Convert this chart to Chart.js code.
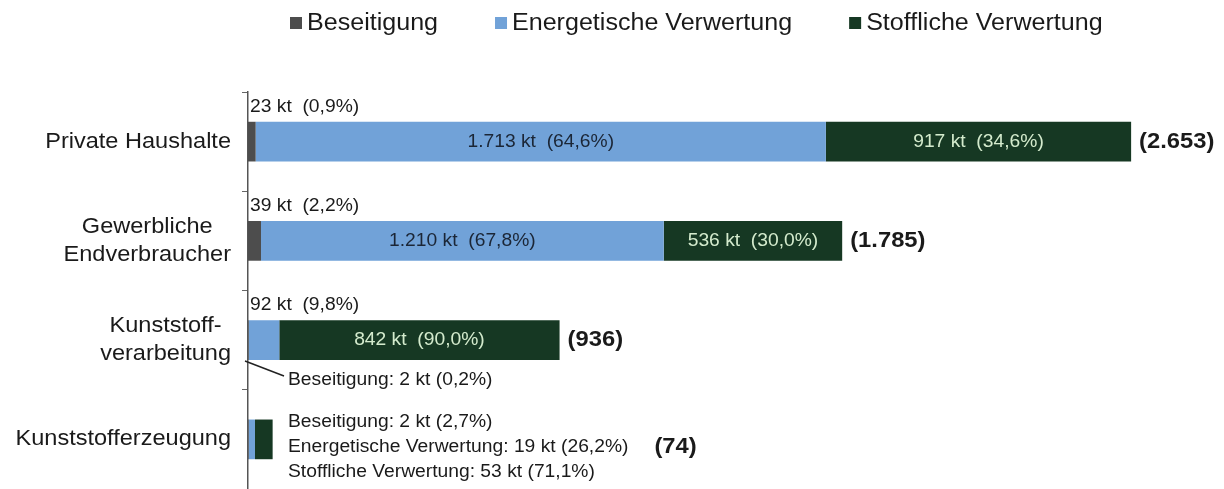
<!DOCTYPE html>
<html><head><meta charset="utf-8">
<script src="https://cdn.jsdelivr.net/npm/chart.js@4.4.1/dist/chart.umd.min.js"></script>
<style>html,body{margin:0;padding:0;background:#fff;} #wrap{width:1224px;height:489px;}</style>
</head><body><div id="wrap"><canvas id="c" width="1224" height="489"></canvas></div>
<script>
const categories = [["Private Haushalte"], ["Gewerbliche", "Endverbraucher"], ["Kunststoff-", "verarbeitung"], ["Kunststofferzeugung"]];
const seriesNames = ["Beseitigung", "Energetische Verwertung", "Stoffliche Verwertung"];
const beseitigung = [23, 39, 2, 2];
const energetisch = [1713, 1210, 92, 19];
const stofflich = [917, 536, 842, 53];
const pctBeseitigung = ["0,9", "2,2", "0,2", "2,7"];
const pctEnergetisch = ["64,6", "67,8", "9,8", "26,2"];
const pctStofflich = ["34,6", "30,0", "90,0", "71,1"];
const xMax = 2920;

const colors = ["#4d4d4d", "#71a2d8", "#163823"];
const innerText = ["#1a1a1a", "#1b2636", "#d4ebcd"];
const FONT = '"Liberation Sans", Arial, sans-serif';
const SX = 1.07;

function fmt(n) { return String(n).replace(/\B(?=(\d{3})+(?!\d))/g, "."); }

function txt(ctx, s, x, y, o) {
  o = o || {};
  const size = o.size || 18, weight = o.weight || "normal", sx = o.sx || SX;
  ctx.save();
  ctx.font = weight + " " + size + "px " + FONT;
  ctx.fillStyle = o.color || "#1a1a1a";
  ctx.textBaseline = "middle";
  ctx.textAlign = o.align || "left";
  ctx.translate(x, y);
  ctx.scale(sx, 1);
  ctx.fillText(s, 0, 0);
  const w = ctx.measureText(s).width * sx;
  ctx.restore();
  return w;
}
function tw(ctx, s, o) {
  o = o || {};
  ctx.save();
  ctx.font = (o.weight || "normal") + " " + (o.size || 18) + "px " + FONT;
  const w = ctx.measureText(s).width * (o.sx || SX);
  ctx.restore();
  return w;
}

const pcts = [pctBeseitigung, pctEnergetisch, pctStofflich];

const labelPlugin = {
  id: "labels",
  afterDraw(chart) {
    const ctx = chart.ctx;
    const area = chart.chartArea;
    const yScale = chart.scales.y;
    // legend
    let lx = 290;
    chart.data.datasets.forEach((ds, i) => {
      ctx.fillStyle = ds.backgroundColor;
      ctx.fillRect(lx, 17, 12, 12);
      const w = txt(ctx, ds.label, lx + 17, 24, { size: 23, sx: 1.09, color: "#1a1a1a" });
      lx += 17 + w + 57;
    });
    // category labels
    chart.data.labels.forEach((lab, j) => {
      const lines = Array.isArray(lab) ? lab : [lab];
      const cy = yScale.getPixelForTick(j);
      const widths = lines.map(l => tw(ctx, l, { size: 22 }));
      const bw = Math.max(...widths);
      const cx = 231 - bw / 2;
      lines.forEach((l, k) => {
        const yy = cy + (k - (lines.length - 1) / 2) * 28;
        txt(ctx, l, cx, yy, { size: 22, align: "center" });
      });
    });
    // data labels
    const metas = chart.data.datasets.map((d, i) => chart.getDatasetMeta(i));
    const n = chart.data.labels.length;
    for (let j = 0; j < n; j++) {
      const vals = chart.data.datasets.map(d => d.data[j]);
      const total = vals.reduce((a, b) => a + b, 0);
      const els = metas.map(m => m.data[j]);
      const top = els[0].y - els[0].height / 2;
      const bottom = els[0].y + els[0].height / 2;
      const cy = els[0].y;
      const barEnd = els[els.length - 1].x;
      const texts = vals.map((v, i) => fmt(v) + " kt  (" + pcts[i][j] + "%)");
      const fits = els.map((e, i) => Math.abs(e.x - e.base) > tw(ctx, texts[i]) + 14);
      if (!fits.some(f => f)) {
        const bx = area.left + 40;
        let maxW = 0;
        vals.forEach((v, i) => {
          const s = chart.data.datasets[i].label + ": " + fmt(v) + " kt (" + pcts[i][j] + "%)";
          const w = txt(ctx, s, bx, cy + (i - 1) * 25 + 8);
          maxW = Math.max(maxW, w);
        });
        txt(ctx, "(" + fmt(total) + ")", bx + maxW + 26, cy + 8, { size: 22, weight: "bold", sx: 1.08 });
        continue;
      }
      const nonFit = vals.map((v, i) => i).filter(i => !fits[i]);
      nonFit.sort((a, b) => vals[b] - vals[a]);
      nonFit.forEach((i, k) => {
        if (k === 0) {
          txt(ctx, texts[i], area.left + 2, top - 15);
        } else {
          const s = chart.data.datasets[i].label + ": " + fmt(vals[i]) + " kt (" + pcts[i][j] + "%)";
          const lx0 = area.left + 40, ly = bottom + 20;
          ctx.save();
          ctx.strokeStyle = "#222";
          ctx.lineWidth = 1.5;
          ctx.beginPath();
          ctx.moveTo(els[i].base - 3, bottom + 1);
          ctx.lineTo(lx0 - 4, ly - 4);
          ctx.stroke();
          ctx.restore();
          txt(ctx, s, lx0, ly);
        }
      });
      els.forEach((e, i) => {
        if (fits[i]) {
          txt(ctx, texts[i], (e.x + e.base) / 2, cy, { align: "center", color: innerText[i] });
        }
      });
      txt(ctx, "(" + fmt(total) + ")", barEnd + 8, cy, { size: 22, weight: "bold", sx: 1.08 });
    }
  }
};

new Chart(document.getElementById("c"), {
  type: "bar",
  data: {
    labels: categories,
    datasets: [
      { label: seriesNames[0], data: beseitigung, backgroundColor: colors[0] },
      { label: seriesNames[1], data: energetisch, backgroundColor: colors[1] },
      { label: seriesNames[2], data: stofflich, backgroundColor: colors[2] }
    ]
  },
  options: {
    indexAxis: "y",
    responsive: false,
    animation: false,
    devicePixelRatio: 1,
    layout: { padding: { top: 92, left: 0, right: 4, bottom: 0 } },
    datasets: { bar: { barPercentage: 0.4, categoryPercentage: 1, borderWidth: 0 } },
    plugins: { legend: { display: false }, tooltip: { enabled: false } },
    scales: {
      x: { stacked: true, display: false, min: 0, max: xMax },
      y: {
        stacked: true,
        position: "left",
        grid: { display: true, drawOnChartArea: false, drawTicks: true, tickLength: 6, color: "#666", lineWidth: 1, offset: true },
        border: { display: true, color: "#555", width: 1.5 },
        ticks: { display: false },
        afterFit(s) { s.width = 248; }
      }
    }
  },
  plugins: [labelPlugin]
});
</script>
</body></html>
